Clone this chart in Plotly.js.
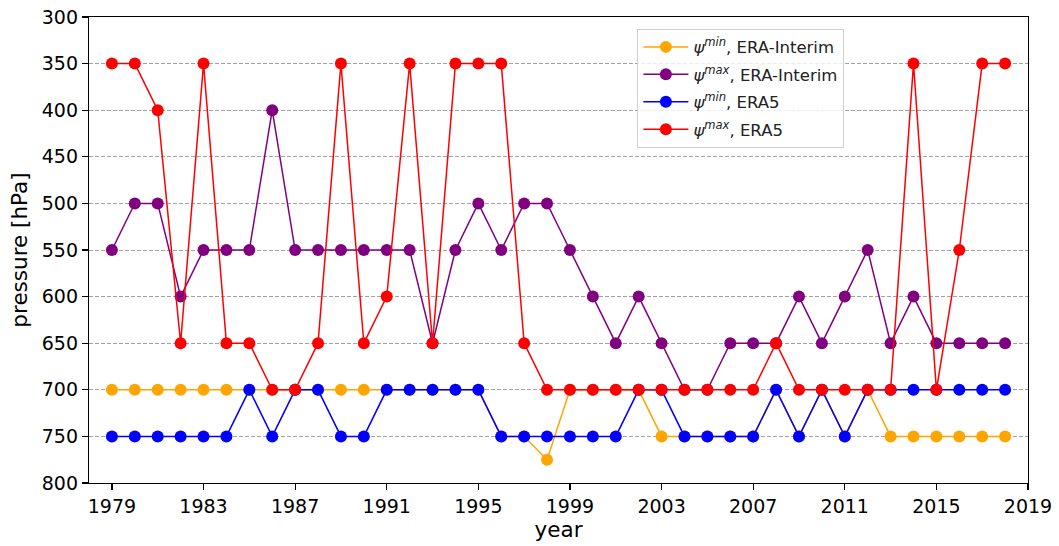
<!DOCTYPE html>
<html>
<head>
<meta charset="utf-8">
<script src="https://cdn.plot.ly/plotly-3.0.1.min.js"></script>
<style>
  html, body { margin: 0; padding: 0; background: #fff; }
  #chart { width: 1059px; height: 546px; }
</style>
</head>
<body>
<div id="chart"></div>
<script>
// Years of the record
const years = [];
for (let y = 1979; y <= 2018; y++) years.push(y);

// Level of psi min / psi max [hPa] per year
const psiMinInterim = [700, 700, 700, 700, 700, 700, 700, 700, 700, 700,
                       700, 700, 700, 700, 700, 700, 700, 750, 750, 775,
                       700, 700, 700, 700, 750, 750, 750, 750, 750, 700,
                       750, 700, 750, 700, 750, 750, 750, 750, 750, 750];
const psiMaxInterim = [550, 500, 500, 600, 550, 550, 550, 400, 550, 550,
                       550, 550, 550, 550, 650, 550, 500, 550, 500, 500,
                       550, 600, 650, 600, 650, 700, 700, 650, 650, 650,
                       600, 650, 600, 550, 650, 600, 650, 650, 650, 650];
const psiMinEra5 = [750, 750, 750, 750, 750, 750, 700, 750, 700, 700,
                    750, 750, 700, 700, 700, 700, 700, 750, 750, 750,
                    750, 750, 750, 700, 700, 750, 750, 750, 750, 700,
                    750, 700, 750, 700, 700, 700, 700, 700, 700, 700];
const psiMaxEra5 = [350, 350, 400, 650, 350, 650, 650, 700, 700, 650,
                    350, 650, 600, 350, 650, 350, 350, 350, 650, 700,
                    700, 700, 700, 700, 700, 700, 700, 700, 700, 650,
                    700, 700, 700, 700, 700, 350, 700, 550, 350, 350];

const seriesNames = [
  '<i>ψ</i><sup><i>min</i></sup>, ERA-Interim',
  '<i>ψ</i><sup><i>max</i></sup>, ERA-Interim',
  '<i>ψ</i><sup><i>min</i></sup>, ERA5',
  '<i>ψ</i><sup><i>max</i></sup>, ERA5'
];
const seriesValues = [psiMinInterim, psiMaxInterim, psiMinEra5, psiMaxEra5];
const seriesColors = ['#FFA500', '#800080', '#0000FF', '#FF0000'];

const xTicks = [1979, 1983, 1987, 1991, 1995, 1999, 2003, 2007, 2011, 2015, 2019];

const traces = seriesValues.map((vals, i) => ({
  type: 'scatter',
  mode: 'lines+markers',
  x: years,
  y: vals,
  name: seriesNames[i],
  legendgroup: 'g' + i,
  line: { color: seriesColors[i], width: 1.5 },
  marker: { color: seriesColors[i], size: 12 }
}));

const tickFont = { family: 'DejaVu Sans, sans-serif', size: 19, color: '#000' };
const titleFont = { family: 'DejaVu Sans, sans-serif', size: 21.5, color: '#000' };

const layout = {
  width: 1059,
  height: 546,
  margin: { l: 89, r: 31, t: 17, b: 63 },
  paper_bgcolor: '#fff',
  plot_bgcolor: '#fff',
  font: tickFont,
  showlegend: true,
  legend: {
    x: 0.584, y: 0.975, xanchor: 'left', yanchor: 'top',
    bgcolor: 'rgba(255,255,255,0.8)',
    bordercolor: '#d0d0d0', borderwidth: 1,
    font: { family: 'DejaVu Sans, sans-serif', size: 16.5, color: '#222' },
    itemwidth: 45,
    tracegroupgap: 3
  },
  xaxis: {
    range: [1978, 2019],
    tickvals: xTicks,
    ticktext: xTicks.map(String),
    ticks: 'outside', ticklen: 6, tickwidth: 1.2, tickcolor: '#000',
    showline: true, linecolor: '#000', linewidth: 1.2, mirror: true,
    showgrid: false, zeroline: false,
    title: { text: 'year', font: titleFont, standoff: 4 }
  },
  yaxis: {
    range: [800, 300],
    tick0: 300, dtick: 50,
    ticks: 'outside', ticklen: 6, tickwidth: 1.2, tickcolor: '#000',
    showline: true, linecolor: '#000', linewidth: 1.2, mirror: true,
    showgrid: true, gridcolor: '#8c8c8c', griddash: '4px,2px', gridwidth: 0.8,
    zeroline: false,
    title: { text: 'pressure [hPa]', font: titleFont, standoff: 8 }
  }
};

Plotly.newPlot('chart', traces, layout, { displayModeBar: false, staticPlot: true });
</script>
</body>
</html>
